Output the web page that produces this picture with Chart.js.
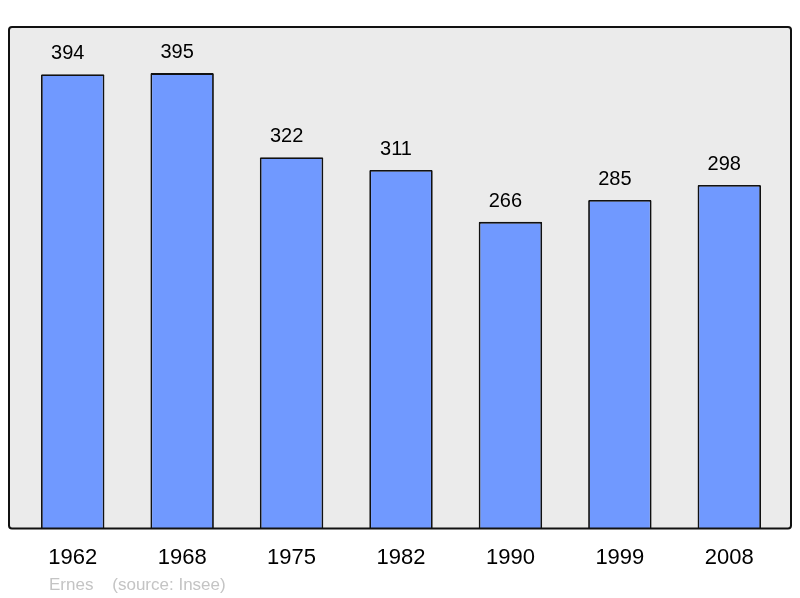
<!DOCTYPE html>
<html>
<head>
<meta charset="utf-8">
<script src="https://cdn.jsdelivr.net/npm/chart.js@4/dist/chart.umd.min.js"></script>
<style>
  html, body { margin: 0; padding: 0; background: #ffffff; }
  #wrap { position: relative; width: 800px; height: 598px; }
  #source { position: absolute; left: 49px; top: 575px; font-family: "Liberation Sans", Arial, sans-serif; font-size: 17px; color: #c4c4c4; white-space: pre; }
</style>
</head>
<body>
<div id="wrap">
  <canvas id="c" width="800" height="598"></canvas>
  <div id="source">Ernes    (source: Insee)</div>
</div>
<script>
const categories = ["1962", "1968", "1975", "1982", "1990", "1999", "2008"];
const population = [394, 395, 322, 311, 266, 285, 298];
const yMax = 435;

const frameAndLabels = {
  id: 'frameAndLabels',
  beforeDatasetsDraw(chart) {
    const { ctx, chartArea } = chart;
    const left = chartArea.left - 9, right = chartArea.right + 7;
    const top = chartArea.top, bottom = chartArea.bottom;
    ctx.save();
    ctx.beginPath();
    ctx.roundRect(left, top, right - left, bottom - top, 3);
    ctx.fillStyle = '#ebebeb';
    ctx.fill();
    ctx.restore();
  },
  afterDatasetsDraw(chart) {
    const { ctx, chartArea } = chart;
    const meta = chart.getDatasetMeta(0);
    ctx.save();
    ctx.font = '20px "Liberation Sans", Arial, sans-serif';
    ctx.fillStyle = '#000000';
    ctx.textAlign = 'center';
    ctx.textBaseline = 'alphabetic';
    meta.data.forEach((bar, i) => {
      ctx.fillText(String(population[i]), bar.x - 5, bar.y - 15);
    });
    const left = chartArea.left - 9, right = chartArea.right + 7;
    ctx.beginPath();
    ctx.roundRect(left, chartArea.top, right - left, chartArea.bottom - chartArea.top, 3);
    ctx.lineWidth = 2;
    ctx.strokeStyle = '#111111';
    ctx.stroke();
    ctx.restore();
  }
};

new Chart(document.getElementById('c'), {
  type: 'bar',
  data: {
    labels: categories,
    datasets: [{
      data: population,
      backgroundColor: '#7099ff',
      borderColor: '#111111',
      borderWidth: 1.8,
      borderSkipped: 'bottom',
      borderRadius: 1,
      categoryPercentage: 1,
      barPercentage: 0.58
    }]
  },
  options: {
    responsive: false,
    animation: false,
    events: [],
    layout: { padding: { left: 18, right: 16, top: 27, bottom: 11 } },
    plugins: { legend: { display: false }, tooltip: { enabled: false } },
    scales: {
      x: {
        grid: { display: false, drawTicks: false },
        border: { display: false },
        ticks: { color: '#000000', padding: 16, font: { family: '"Liberation Sans", Arial, sans-serif', size: 22 } }
      },
      y: { display: false, min: 0, max: yMax }
    }
  },
  plugins: [frameAndLabels]
});
</script>
</body>
</html>
